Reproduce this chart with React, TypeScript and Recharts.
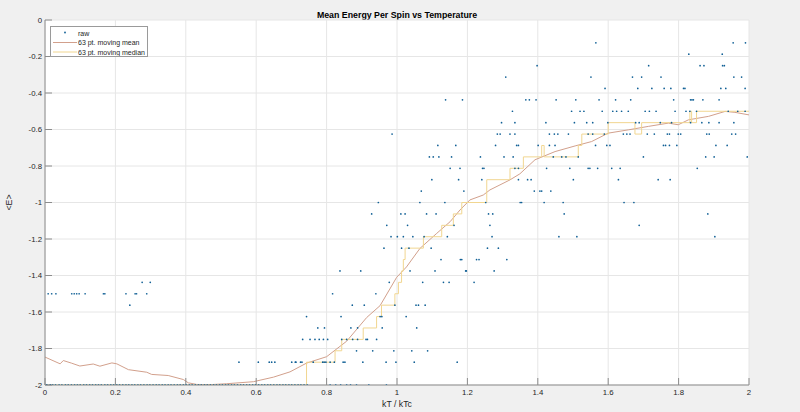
import React from "react";
import { ComposedChart, Scatter, Line, XAxis, YAxis, CartesianGrid, Legend } from "recharts";

const X_TICKS = [0, 0.2, 0.4, 0.6, 0.8, 1, 1.2, 1.4, 1.6, 1.8, 2];
const Y_TICKS = [0, -0.2, -0.4, -0.6, -0.8, -1, -1.2, -1.4, -1.6, -1.8, -2];

// raw samples grouped by energy level: [E, kT/kTc values]
const rawRows: [number, number[]][] = [
    [-0.125, [1.565, 1.955, 1.99]],
    [-0.1875, [1.829, 1.924]],
    [-0.25, [1.398, 1.715, 1.861, 1.872, 1.925, 1.93]],
    [-0.3125, [1.309, 1.551, 1.669, 1.695, 1.75, 1.957, 1.979]],
    [-0.375, [1.591, 1.684, 1.724, 1.759, 1.778, 1.814, 1.818, 1.92, 1.934, 1.989]],
    [-0.4375, [1.138, 1.186, 1.366, 1.376, 1.395, 1.452, 1.508, 1.574, 1.621, 1.664, 1.786, 1.834, 1.838, 1.842, 1.869, 1.915]],
    [-0.5, [1.328, 1.496, 1.52, 1.531, 1.583, 1.613, 1.624, 1.638, 1.657, 1.705, 1.717, 1.736, 1.79, 1.821, 1.832, 1.851, 1.941, 1.968, 1.989]],
    [-0.5625, [1.297, 1.335, 1.423, 1.504, 1.539, 1.556, 1.599, 1.678, 1.688, 1.748, 1.78, 1.834, 1.866, 1.886, 1.915, 1.957]],
    [-0.625, [0.986, 1.285, 1.293, 1.321, 1.335, 1.433, 1.447, 1.457, 1.487, 1.543, 1.556, 1.589, 1.643, 1.653, 1.662, 1.711, 1.731, 1.768, 1.774, 1.799, 1.806, 1.88, 1.887, 1.951, 1.962]],
    [-0.6875, [1.116, 1.167, 1.28, 1.34, 1.345, 1.401, 1.433, 1.449, 1.564, 1.596, 1.605, 1.757, 1.763, 1.774, 1.795, 1.906, 1.938]],
    [-0.75, [1.092, 1.103, 1.119, 1.155, 1.237, 1.304, 1.33, 1.444, 1.468, 1.48, 1.515, 1.7, 1.877, 1.901, 1.995]],
    [-0.8125, [1.151, 1.179, 1.243, 1.247, 1.335, 1.345, 1.425, 1.491, 1.543, 1.548, 1.57, 1.61, 1.634, 1.853]],
    [-0.875, [1.099, 1.175, 1.241, 1.345, 1.371, 1.381, 1.501, 1.629, 1.742, 1.776]],
    [-0.9375, [1.069, 1.19, 1.39, 1.406, 1.411, 1.437]],
    [-1, [0.947, 1.065, 1.136, 1.252, 1.35, 1.354, 1.418, 1.472, 1.645, 1.673]],
    [-1.0625, [0.928, 1.011, 1.023, 1.084, 1.111, 1.26, 1.272, 1.475, 1.883]],
    [-1.125, [0.971, 1.03, 1.162, 1.264, 1.688]],
    [-1.1875, [0.983, 1.001, 1.018, 1.045, 1.077, 1.143, 1.27, 1.46, 1.511, 1.903]],
    [-1.25, [0.963, 1.013, 1.034, 1.097, 1.257, 1.288]],
    [-1.3125, [1.125, 1.18, 1.184, 1.226, 1.233, 1.312]],
    [-1.375, [0.838, 0.897, 1.037, 1.108, 1.195, 1.197, 1.276]],
    [-1.4375, [0.276, 0.299, 0.978, 1.073, 1.132, 1.148, 1.219]],
    [-1.5, [0.009, 0.019, 0.031, 0.076, 0.083, 0.09, 0.097, 0.114, 0.166, 0.17, 0.23, 0.256, 0.26, 0.289, 0.817, 0.94]],
    [-1.5625, [0.241, 0.873, 0.907, 0.994, 1.054, 1.061, 1.08]],
    [-1.625, [0.743, 0.841, 0.952, 0.957, 1.026]],
    [-1.6875, [0.775, 0.794, 0.869, 0.888, 0.958, 1.056]],
    [-1.75, [0.732, 0.753, 0.767, 0.779, 0.791, 0.803, 0.843, 0.857, 0.874, 0.888, 0.912, 0.916, 0.942]],
    [-1.8125, [0.885, 0.931, 0.991, 1.042, 1.087]],
    [-1.875, [0.551, 0.606, 0.637, 0.644, 0.653, 0.701, 0.711, 0.713, 0.726, 0.73, 0.762, 0.789, 0.793, 0.798, 0.81, 0.822, 0.847, 0.852, 0.903, 0.969, 0.997, 1.049, 1.171]],
    [-2, [0.005, 0.015, 0.022, 0.03, 0.04, 0.048, 0.058, 0.066, 0.075, 0.084, 0.092, 0.1, 0.11, 0.118, 0.127, 0.135, 0.144, 0.152, 0.16, 0.17, 0.178, 0.187, 0.195, 0.204, 0.212, 0.221, 0.23, 0.238, 0.247, 0.255, 0.264, 0.272, 0.281, 0.29, 0.298, 0.307, 0.316, 0.324, 0.333, 0.341, 0.35, 0.358, 0.367, 0.376, 0.384, 0.393, 0.401, 0.41, 0.418, 0.427, 0.436, 0.444, 0.453, 0.461, 0.47, 0.479, 0.487, 0.496, 0.504, 0.513, 0.521, 0.53, 0.538, 0.547, 0.556, 0.564, 0.573, 0.581, 0.59, 0.598, 0.607, 0.616, 0.624, 0.633, 0.641, 0.65, 0.659, 0.667, 0.676, 0.684, 0.693, 0.701, 0.71, 0.719, 0.727, 0.736, 0.745, 0.81, 0.826, 0.84, 0.857, 0.868, 0.885, 0.92, 0.97]],
];

// 63 pt. moving mean
const meanT = [0, 0.043, 0.052, 0.075, 0.099, 0.137, 0.156, 0.19, 0.204, 0.237, 0.289, 0.303, 0.35, 0.393, 0.407, 0.431, 0.47, 0.516, 0.592, 0.649, 0.696, 0.743, 0.8, 0.857, 0.914, 0.952, 0.999, 1.027, 1.065, 1.113, 1.151, 1.179, 1.207, 1.245, 1.264, 1.321, 1.349, 1.392, 1.449, 1.506, 1.553, 1.6, 1.657, 1.714, 1.771, 1.799, 1.828, 1.885, 1.932, 1.96, 2];
const meanE = [-1.847, -1.884, -1.866, -1.88, -1.896, -1.885, -1.897, -1.879, -1.884, -1.916, -1.93, -1.942, -1.948, -1.97, -1.988, -1.997, -1.998, -1.993, -1.982, -1.957, -1.928, -1.88, -1.845, -1.76, -1.63, -1.565, -1.41, -1.353, -1.252, -1.169, -1.105, -1.041, -0.986, -0.959, -0.931, -0.876, -0.843, -0.766, -0.721, -0.69, -0.666, -0.62, -0.602, -0.583, -0.565, -0.574, -0.547, -0.528, -0.501, -0.506, -0.52];

// 63 pt. moving median (step levels)
const medianT = [0, 0.743, 0.824, 0.843, 0.904, 0.942, 0.956, 0.994, 1.004, 1.013, 1.018, 1.023, 1.075, 1.127, 1.16, 1.184, 1.255, 1.321, 1.359, 1.411, 1.418, 1.515, 1.525, 1.6, 1.676, 1.695, 1.832, 1.837, 1.851, 2];
const medianE = [-2, -1.875, -1.8125, -1.75, -1.6875, -1.625, -1.5625, -1.5, -1.4375, -1.375, -1.3125, -1.25, -1.1875, -1.125, -1.0625, -1, -0.875, -0.8125, -0.75, -0.6875, -0.75, -0.6875, -0.625, -0.5625, -0.625, -0.5625, -0.5, -0.5625, -0.5, -0.5];

const RAW_COLOR = "#0f5f95";
const MEAN_COLOR = "#d2a08c";
const MEDIAN_COLOR = "#f1d690";
const FONT = "'Liberation Sans', Arial, sans-serif";

const rawData = rawRows.flatMap(([e, ts]) => ts.map((t) => ({ x: t, y: e })));
const meanData = meanT.map((t, i) => ({ x: t, y: meanE[i] }));
const medianData = medianT.map((t, i) => ({ x: t, y: medianE[i] }));

const Dot = (props: any) => <circle cx={props.cx} cy={props.cy} r={0.85} fill={RAW_COLOR} />;

const renderLegend = () => (
    <div style={{ width: 98, height: 31, boxSizing: "border-box", border: "1px solid #9a9a9a", background: "#fff" }}>
        <svg width={96} height={29} style={{ display: "block" }}>
            <circle cx={14} cy={5.5} r={0.9} fill={RAW_COLOR} />
            <line x1={2} x2={26} y1={15.5} y2={15.5} stroke={MEAN_COLOR} />
            <line x1={2} x2={26} y1={25} y2={25} stroke={MEDIAN_COLOR} />
            <g fontFamily={FONT} fontSize={7} fill="#262626">
                <text x={27} y={8.5}>raw</text>
                <text x={27} y={18.2}>63 pt. moving mean</text>
                <text x={27} y={27.7}>63 pt. moving median</text>
            </g>
        </svg>
    </div>
);

export default function App() {
    const tickStyle = { fill: "#262626", fontSize: 7.8, fontFamily: FONT };
    return (
        <div style={{ position: "absolute", left: 0, top: 0, width: 800, height: 412, background: "#f0f0f0" }}>
            <div
                style={{
                    position: "absolute",
                    left: 45,
                    top: 9,
                    width: 704,
                    textAlign: "center",
                    fontFamily: FONT,
                    fontSize: 8.8,
                    lineHeight: "12px",
                    fontWeight: "bold",
                    color: "#000",
                }}
            >
                Mean Energy Per Spin vs Temperature
            </div>
            <ComposedChart width={800} height={412} margin={{ top: 20, right: 51, bottom: 0, left: 0 }}>
                <CartesianGrid stroke="#e6e6e6" fill="#fff" />
                <XAxis
                    type="number"
                    dataKey="x"
                    domain={[0, 2]}
                    ticks={X_TICKS}
                    interval={0}
                    allowDataOverflow
                    height={27}
                    stroke="#8c8c8c"
                    tickSize={-7}
                    tickMargin={11}
                    tick={tickStyle}
                    label={{ value: "kT / kTc", position: "insideBottom", offset: 5, style: { fill: "#262626", fontSize: 8.7, fontFamily: FONT } }}
                />
                <XAxis
                    xAxisId="top"
                    orientation="top"
                    type="number"
                    dataKey="x"
                    domain={[0, 2]}
                    ticks={X_TICKS}
                    interval={0}
                    allowDataOverflow
                    height={0}
                    stroke="#8c8c8c"
                    tickSize={-7}
                    tick={false}
                />
                <YAxis
                    type="number"
                    domain={[-2, 0]}
                    ticks={Y_TICKS}
                    interval={0}
                    allowDataOverflow
                    width={45}
                    stroke="#8c8c8c"
                    tickSize={-7}
                    tickMargin={10}
                    tick={tickStyle}
                    label={{ value: "<E>", angle: -90, position: "insideLeft", offset: 9, style: { textAnchor: "middle", fill: "#262626", fontSize: 8.7, fontFamily: FONT } }}
                />
                <YAxis
                    yAxisId="right"
                    orientation="right"
                    type="number"
                    domain={[-2, 0]}
                    ticks={Y_TICKS}
                    interval={0}
                    allowDataOverflow
                    width={0}
                    stroke="#8c8c8c"
                    tickSize={-7}
                    tick={false}
                />
                <Scatter data={rawData} dataKey="y" name="raw" shape={Dot} isAnimationActive={false} />
                <Line data={meanData} dataKey="y" name="63 pt. moving mean" type="linear" stroke={MEAN_COLOR} strokeWidth={1} dot={false} activeDot={false} isAnimationActive={false} />
                <Line data={medianData} dataKey="y" name="63 pt. moving median" type="stepAfter" stroke={MEDIAN_COLOR} strokeWidth={1} dot={false} activeDot={false} isAnimationActive={false} />
                <Legend
                    layout="vertical"
                    align="center"
                    verticalAlign="middle"
                    content={renderLegend}
                    wrapperStyle={{ left: 50, top: 26, width: 98, height: 31 }}
                />
            </ComposedChart>
        </div>
    );
}
